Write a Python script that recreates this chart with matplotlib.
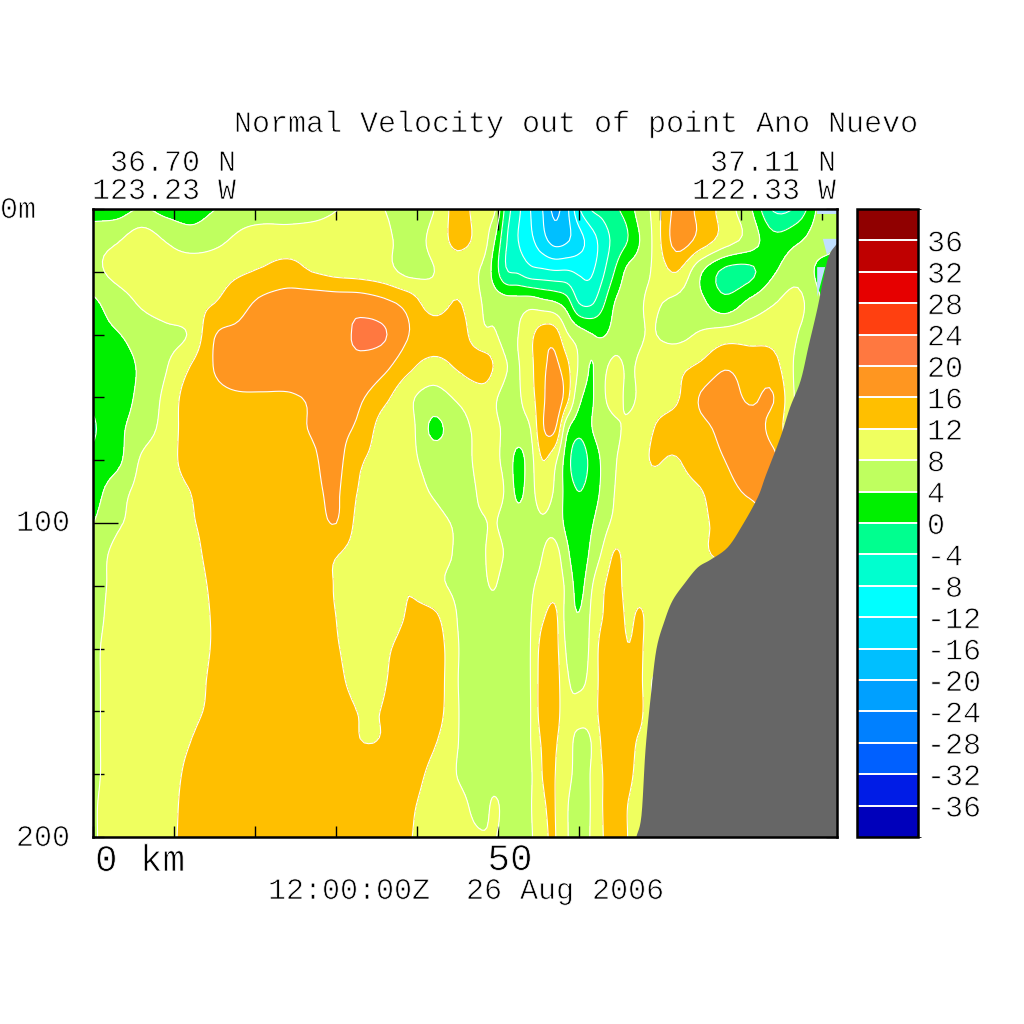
"""Normal velocity section out of point Ano Nuevo, 26 Aug 2006."""

import matplotlib
matplotlib.use("Agg")
import matplotlib.patheffects as pe
import matplotlib.pyplot as plt
import numpy as np
from matplotlib.colors import BoundaryNorm, ListedColormap

FIG_PX = 1024
FONT = "Liberation Mono"
REFINE = 6
THIN = [pe.Stroke(linewidth=0.55, foreground="white")]  # eats into the glyphs, thin pen look

LEVELS = list(range(-40, 41, 4))
BAND_COLORS = [
    "#0000bb", "#001ce6", "#0060ff", "#0080ff", "#00a0ff",
    "#00bfff", "#00dfff", "#00ffff", "#00ffcf", "#00ff8f",
    "#00f000", "#bfff5f", "#efff5f", "#ffbf00", "#ff9620",
    "#ff7840", "#ff4010", "#e60000", "#bf0000", "#900000",
]
LAND_COLOR = "#666666"
NODATA_COLOR = "#c0e0ff"

# section distance (km), finer through the narrow jets in the middle
X_KM = [0, 3, 6, 9, 12, 15, 18, 21, 24, 27, 30, 33, 36, 39, 42, 45,
        48, 49.5, 51, 52.5, 54, 55.5, 57, 58.5, 60, 61.5, 63, 64.5, 66, 67.5, 69,
        72, 75, 78, 81, 84, 87, 90, 92]
DEPTH_M = list(range(0, 201, 10))

V_000 = [2, 2, 4.3, 2.5, 2, 3.9, 6, 6, 6, 6, 7.8, 9.5, 8, 6, 7.8, 13.5,
         9.5, 9, -1.5, -7, -12, -16, -21, -17, -8.5, -3.8, -2.5, -0.5, 1.5, 6, 8.5,
         17, 15, 10, 5, -4.5, -3, 6, 6]
V_010 = [6.5, 7.7, 10, 7.8, 6, 7, 8.8, 10, 10, 10.5, 10.5, 10.5, 9, 6.5, 9, 13,
         10, 4.5, -3.5, -8, -11, -14.5, -17.5, -16.5, -13.5, -10, -6, -2.5, 0, 4, 8,
         17.5, 14.5, 10, 6.5, 1.5, 3.5, 6, 5]
V_020 = [7, 9, 10, 10, 10.5, 10.5, 11.5, 12.5, 13.5, 12, 11, 10.5, 9.5, 7, 7.9, 10,
         7.5, 2.5, -3.5, -4.5, -6.5, -7, -7.5, -7.5, -8.5, -8.5, -4.5, 0.5, 5, 6.5, 8.2,
         12.1, 4.5, -1, -1, 3.5, 6.5, 2.5, 1]
V_030 = [3.2, 6, 8.5, 10, 11, 12, 14.5, 17, 18, 18.7, 18.5, 18.5, 17, 14.5, 10, 12.3,
         8, 6.5, 6, 6, 6.5, 5.5, 4.5, 2, -4, -4.5, -0.5, 4.3, 6, 7.5, 8.5,
         7, 5, 1.5, 5, 7.8, 9, 4, 2]
V_040 = [3, 3.8, 5.5, 7, 8.5, 15.8, 17, 18.5, 19, 19, 19, 20.5, 20.3, 16, 14.5, 14,
         9, 8.5, 6.5, 8, 11, 14, 14, 8.5, 6, 4.2, 3.7, 5.5, 6, 7.5, 8.2,
         7, 8.5, 10, 10.5, 10.5, 8, 4, 2]
V_050 = [2.5, 3, 4.5, 7.7, 12, 16.2, 18.5, 19, 19, 19, 19, 19, 17, 13, 10.5, 12.5,
         14, 11.8, 8.2, 7.8, 11, 15, 17, 13, 7.5, 3.8, 7, 9, 7.5, 8.5, 9.5,
         11, 12.6, 15.5, 14, 13.5, 7, 5, 4]
V_060 = [1, 2.5, 5, 9, 14, 15, 15.5, 15.5, 15.5, 16.5, 18, 16.5, 13, 8.8, 6.5, 8.5,
         10, 8.5, 7, 7.5, 10.5, 15, 19.5, 13.5, 5, 3.5, 7.5, 9, 7.5, 8.5, 10.5,
         11.5, 16.3, 18, 15.4, 16.1, 7, 5, 4]
V_070 = [-0.5, 3, 6, 9.5, 14, 15, 15, 15, 15, 16.2, 17, 15, 10, 9.5, 3.2, 6.5,
         9, 8.5, 7.5, 6.5, 8, 15.5, 16.5, 5, 1.5, 3.8, 6, 7.5, 8.5, 9.5, 11.8,
         13.5, 15, 17, 18, 14.5, 8, 5, 4]
V_080 = [1, 3, 8.5, 10.5, 13.5, 15, 15, 15, 15, 15.5, 17, 12.5, 10.5, 9, 6.5, 6.5,
         9, 8.5, 7, 2.5, 6.5, 12, 9, 2, -3, 1.5, 4.8, 7.8, 9, 10, 12.2,
         11.8, 14, 16, 18, 17, 10, 6, 5]
V_090 = [2, 6.5, 9, 10.5, 12, 14, 14.5, 14.5, 14.5, 15, 16.5, 11.5, 10.5, 9.5, 7.7, 6.5,
         8.5, 9, 7.5, 3, 6.5, 10, 7.5, 2.5, 0, 2, 5, 8.2, 9.5, 10, 10.5,
         11, 11.8, 14.5, 16.5, 17, 10, 6, 5]
V_100 = [3.9, 7.5, 9, 10.5, 11.7, 13, 14, 14, 14, 14, 16.05, 10.5, 10, 10, 9, 7.7,
         7.8, 8.2, 7, 6, 6.5, 7.5, 6.5, 3, 1, 3.5, 6.5, 9, 10, 10.5, 10.5,
         11, 11.5, 13, 14, 15, 10, 6, 5]
V_110 = [6, 9, 10, 10.5, 11.3, 12.8, 14, 14, 14, 13.5, 12.2, 10.5, 10, 10, 9, 7.8,
         7.7, 9, 7.7, 7, 7, 8, 9.5, 5, 1, 5, 8.8, 12.5, 10.5, 10.5, 10.5,
         10.5, 11.5, 12.7, 14, 14, 10, 6, 5]
V_120 = [6.5, 9, 10, 10.5, 11, 12.4, 13, 14, 14, 13.5, 11.8, 10, 10, 11.7, 9, 7.5,
         7.5, 8.2, 6.5, 6, 7.5, 9, 10.5, 7, 2.5, 7.5, 11.5, 14, 10, 10, 10,
         10, 10, 10, 10, 10, 10, 6, 5]
V_130 = [6.5, 9.5, 10, 10.5, 11, 12.2, 13, 14, 14, 13.5, 12, 10, 9.5, 12.5, 13, 7.9,
         6.5, 6.5, 6.5, 6.5, 7.8, 11.5, 13, 6.5, 4.3, 8.5, 12.2, 15.5, 11, 12.8, 10,
         9.5, 10, 10, 10, 10, 10, 6, 5]
V_140 = [7, 10, 10.5, 10.5, 11, 12.2, 13, 14, 14, 14, 12.3, 10.5, 11.3, 14, 15, 8.2,
         6.5, 6.5, 6.5, 6.5, 8, 13.5, 13.5, 7.5, 6, 8.8, 14, 15, 12.2, 13, 9,
         9, 9, 9, 9, 9, 9, 6, 5]
V_150 = [7, 10, 10.5, 10.5, 11, 12.5, 13.5, 14, 14, 14, 13, 10.5, 11.8, 14, 15, 8.1,
         6.5, 6.5, 6.5, 6.5, 8, 14, 14, 8.5, 7.5, 9, 14, 15, 12.5, 13, 8,
         9, 9, 9, 9, 9, 9, 6, 5]
V_160 = [7, 10, 10.5, 10.5, 11.2, 12.8, 14, 14, 14, 14, 14, 11.8, 12.2, 14, 14.5, 8.2,
         6.5, 6.5, 6.5, 6.5, 7.9, 14, 14, 9, 8.5, 9.5, 14, 15, 14, 13.5, 8,
         9, 9, 9, 9, 9, 9, 6, 5]
V_170 = [7, 10, 10.5, 11, 12, 14, 14, 14, 14, 14, 14, 12.1, 12.3, 14, 12.5, 8.1,
         6.5, 6.5, 6.5, 6.5, 7.9, 12.5, 12.5, 9, 7.5, 8, 13, 15, 14, 11, 8,
         9, 9, 9, 9, 9, 9, 6, 5]
V_180 = [7, 10, 10.5, 11, 12.6, 14, 14, 14, 14, 14, 14, 14, 14, 13.5, 11, 7.9,
         6.5, 6.5, 6.5, 6.5, 7.5, 12.1, 12.1, 9, 7.2, 8.2, 12.2, 14.5, 13.5, 10, 8,
         9, 9, 9, 9, 9, 9, 6, 5]
V_190 = [7.5, 10, 10.5, 11, 13, 14, 14, 14, 14, 14, 14, 14, 14, 12.6, 10.5, 9,
         7, 8.5, 7, 6.5, 7.7, 11.5, 12.1, 8.3, 6.5, 8.2, 12.2, 14.5, 12, 9, 8,
         9, 9, 9, 9, 9, 9, 6, 5]
V_200 = [7.5, 10, 10.5, 11.2, 13, 14, 14, 14, 14, 14, 14, 14, 14, 12.3, 10, 9,
         8.3, 8.2, 7, 6.5, 7.5, 11, 12.2, 8.3, 6.5, 8.3, 12, 14.5, 12, 9, 8,
         9, 9, 9, 9, 9, 9, 6, 5]

# sea floor along the section
LAND_KM = [67.0, 67.65, 68.15, 68.8, 69.5, 70.5, 71.5, 73.0, 74.6, 76.2, 78.3,
           80.1, 82.0, 83.0, 84.8, 86.0, 87.3, 88.3, 89.4, 90.6, 91.6, 92.0]
LAND_M = [200, 193, 172, 155, 140, 131, 124.5, 119, 114, 111.5, 107.6,
          100.6, 91.7, 84.7, 72.6, 63, 54.5, 43.3, 31.2, 16.2, 11.5, 10.8]

# slivers next to the coast that have no velocity
NODATA_PATCHES = [
    ([89.4, 91.9, 91.9, 89.4], [0, 0, 1.6, 1.6]),
    ([89.4, 90.4, 90.6, 89.4], [18.5, 18.5, 16.5, 28]),
    ([90.1, 91.9, 91.9, 90.6], [9.5, 9.5, 12, 14.5]),
]


def refine(a, n, axis):
    """Catmull-Rom upsample along one axis so the contours come out round."""
    a = np.moveaxis(np.asarray(a, dtype=float), axis, 0)
    padded = np.concatenate([2 * a[:1] - a[1:2], a, 2 * a[-1:] - a[-2:-1]])
    pos = np.arange(0, (len(a) - 1) * n + 1) / n
    i = np.minimum(pos.astype(int), len(a) - 2)
    t = (pos - i).reshape((-1,) + (1,) * (a.ndim - 1))
    p0, p1, p2, p3 = padded[i], padded[i + 1], padded[i + 2], padded[i + 3]
    out = 0.5 * (2 * p1 + (p2 - p0) * t + (2 * p0 - 5 * p1 + 4 * p2 - p3) * t ** 2
                 + (3 * p1 - p0 - 3 * p2 + p3) * t ** 3)
    return np.moveaxis(out, 0, axis)


def put(fig, px, py, s, size=21.6, ha="left"):
    fig.text(px / FIG_PX, 1 - py / FIG_PX, s, fontsize=size, ha=ha,
             va="center", family=FONT, color="black", path_effects=THIN)


def main():
    values = np.array([V_000, V_010, V_020, V_030, V_040, V_050, V_060, V_070,
                       V_080, V_090, V_100, V_110, V_120, V_130, V_140, V_150,
                       V_160, V_170, V_180, V_190, V_200])
    fine = refine(refine(values, REFINE, 0), REFINE, 1)
    x_fine = refine(X_KM, REFINE, 0)
    z_fine = refine(DEPTH_M, REFINE, 0)

    cmap = ListedColormap(BAND_COLORS)
    norm = BoundaryNorm(LEVELS, cmap.N)

    fig = plt.figure(figsize=(FIG_PX / 100, FIG_PX / 100), dpi=100)
    ax = fig.add_axes([93 / FIG_PX, 1 - 837 / FIG_PX, 744 / FIG_PX, 628 / FIG_PX])
    cf = ax.contourf(x_fine, z_fine, fine, levels=LEVELS, cmap=cmap, norm=norm)
    ax.contour(x_fine, z_fine, fine, levels=LEVELS, colors="white",
               linewidths=0.8, linestyles="solid")
    for km, m in NODATA_PATCHES:
        ax.fill(km, m, color=NODATA_COLOR, lw=0, zorder=3)
    ax.fill_betweenx(refine(LAND_M, REFINE, 0), refine(LAND_KM, REFINE, 0), 92.5,
                     color=LAND_COLOR, lw=0, zorder=4)

    ax.set_xlim(0, 91.85)
    ax.set_ylim(200, 0)
    ax.set_xticks([50])
    ax.set_xticks(np.arange(0, 91, 10), minor=True)
    ax.set_yticks([100])
    ax.set_yticks(np.arange(0, 201, 20), minor=True)
    ax.tick_params(which="major", direction="in", length=18, width=1,
                   top=True, right=True, labelleft=False, labelbottom=False)
    ax.tick_params(which="minor", direction="in", length=8, width=1,
                   top=True, right=True)
    for tick in ax.xaxis.get_major_ticks():
        tick.tick1line.set_markersize(8)
        tick.tick2line.set_markersize(15)
    for spine in ax.spines.values():
        spine.set_linewidth(1.8)
        spine.set_zorder(6)

    cax = fig.add_axes([857 / FIG_PX, 1 - 837 / FIG_PX, 61 / FIG_PX, 628 / FIG_PX])
    cb = fig.colorbar(cf, cax=cax, ticks=LEVELS[1:-1], drawedges=False)
    cax.hlines(LEVELS[1:-1], -40, 40, colors="white", linewidth=1.4)
    cax.tick_params(length=0, pad=6.5)
    cb.set_ticklabels([str(v) for v in LEVELS[1:-1]])
    for label in cax.get_yticklabels():
        label.set_family(FONT)
        label.set_fontsize(21.6)
        label.set_path_effects(THIN)
    cb.outline.set_linewidth(1.8)

    put(fig, 918, 124, "Normal Velocity out of point Ano Nuevo", ha="right")
    put(fig, 236, 163, "36.70 N", ha="right")
    put(fig, 236, 191, "123.23 W", ha="right")
    put(fig, 836, 163, "37.11 N", ha="right")
    put(fig, 836, 191, "122.33 W", ha="right")
    put(fig, 0, 210, "0m")
    put(fig, 70, 523, "100", ha="right")
    put(fig, 70, 838, "200", ha="right")
    put(fig, 95, 861, "0 km", size=27)
    put(fig, 510, 860, "50", size=27, ha="center")
    put(fig, 466, 891, "12:00:00Z  26 Aug 2006", ha="center")

    fig.savefig("out.png", dpi=100)
    plt.close(fig)


if __name__ == "__main__":
    main()
